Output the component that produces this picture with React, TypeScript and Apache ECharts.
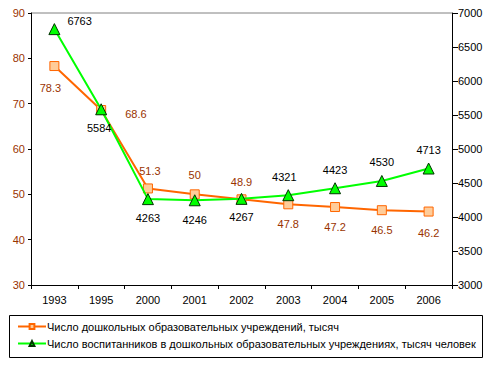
import React, { useEffect, useRef } from "react";
import * as echarts from "echarts";

const categories = ["1993", "1995", "2000", "2001", "2002", "2003", "2004", "2005", "2006"];
const institutions = [78.3, 68.6, 51.3, 50, 48.9, 47.8, 47.2, 46.5, 46.2];
const pupils = [6763, 5584, 4263, 4246, 4267, 4321, 4423, 4530, 4713];
const seriesNames = [
  "Число дошкольных образовательных учреждений, тысяч",
  "Число воспитанников в дошкольных образовательных учреждениях, тысяч человек",
];

const instLabelPos: any[] = [
  { position: "bottom", offset: [-4, 6] },
  { position: "right", offset: [14, 4] },
  { position: "top", offset: [2, -2] },
  { position: "top", offset: [0, -4] },
  { position: "top", offset: [0, -2] },
  { position: "bottom", offset: [0, 4] },
  { position: "bottom", offset: [0, 4] },
  { position: "bottom", offset: [0, 4] },
  { position: "bottom", offset: [0, 6] },
];
const pupilLabelPos: any[] = [
  { position: "right", offset: [2, -8] },
  { position: "bottom", offset: [-2, 2] },
  { position: "bottom", offset: [0, 2] },
  { position: "bottom", offset: [0, 3] },
  { position: "bottom", offset: [0, 2] },
  { position: "top", offset: [-4, -2] },
  { position: "top", offset: [0, -2] },
  { position: "top", offset: [0, -2] },
  { position: "top", offset: [0, -2] },
];

const FONT = "'Liberation Sans', Arial, sans-serif";

export default function App() {
  const ref = useRef<HTMLDivElement>(null);
  useEffect(() => {
    if (!ref.current) return;
    const chart = echarts.init(ref.current, null, { renderer: "svg" });
    chart.setOption({
      animation: false,
      backgroundColor: "#fff",
      textStyle: { fontFamily: FONT },
      grid: { left: 31, right: 41, top: 13, bottom: 80, containLabel: false },
      xAxis: {
        type: "category",
        data: categories,
        boundaryGap: true,
        axisLine: { lineStyle: { color: "#000", width: 1 } },
        axisTick: { show: true, length: 4, lineStyle: { color: "#000" } },
        axisLabel: { color: "#000", fontSize: 11, margin: 9, fontFamily: FONT },
        splitLine: { show: false },
      },
      yAxis: [
        {
          type: "value",
          min: 30,
          max: 90,
          interval: 10,
          position: "left",
          axisLine: { show: true, lineStyle: { color: "#000" } },
          axisTick: { show: true, length: 3, inside: false, lineStyle: { color: "#000" } },
          axisLabel: { color: "#993300", fontSize: 11, margin: 6, fontFamily: FONT },
          splitLine: { show: false },
        },
        {
          type: "value",
          min: 3000,
          max: 7000,
          interval: 500,
          position: "right",
          axisLine: { show: true, lineStyle: { color: "#000" } },
          axisTick: { show: true, length: 6, lineStyle: { color: "#000" } },
          axisLabel: {
            color: "#000",
            fontSize: 11,
            margin: 6,
            fontFamily: FONT,
            formatter: (v: number) => String(v),
          },
          splitLine: { show: false },
        },
      ],
      legend: {
        orient: "vertical",
        left: 12,
        top: 316,
        itemWidth: 28,
        itemHeight: 6,
        itemGap: 6,
        textStyle: { color: "#000", fontSize: 11, fontFamily: FONT, padding: [0, 0, 0, -4] },
        data: seriesNames,
      },
      graphic: [
        {
          type: "rect",
          left: 7,
          top: 313,
          shape: { width: 473, height: 42 },
          style: { fill: "none", stroke: "#000", lineWidth: 1 },
          silent: true,
        },
        {
          type: "line",
          shape: { x1: 31, y1: 13, x2: 452, y2: 13 },
          style: { stroke: "#808080", lineWidth: 1 },
          silent: true,
        },
      ],
      series: [
        {
          name: seriesNames[0],
          type: "line",
          yAxisIndex: 0,
          data: institutions.map((v, i) => ({
            value: v,
            label: { show: true, ...instLabelPos[i] },
          })),
          lineStyle: { color: "#FF6600", width: 2 },
          itemStyle: { color: "#FFCC99", borderColor: "#FF6600", borderWidth: 1 },
          symbol: "rect",
          symbolSize: 9,
          label: { color: "#993300", fontSize: 11, fontFamily: FONT },
          z: 2,
        },
        {
          name: seriesNames[1],
          type: "line",
          yAxisIndex: 1,
          data: pupils.map((v, i) => ({
            value: v,
            label: { show: true, ...pupilLabelPos[i] },
          })),
          lineStyle: { color: "#00FF00", width: 2 },
          itemStyle: { color: "#00FF00", borderColor: "#003300", borderWidth: 1 },
          symbol: "triangle",
          symbolSize: 11,
          label: { color: "#000", fontSize: 11, fontFamily: FONT },
          z: 3,
        },
      ],
    });
    return () => chart.dispose();
  }, []);
  return <div ref={ref} style={{ width: 493, height: 365, position: "absolute", left: 0, top: 0 }} />;
}
